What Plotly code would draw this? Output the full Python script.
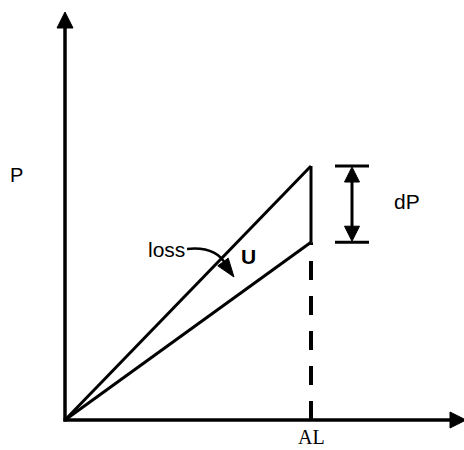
import math
import plotly.graph_objects as go

# Extension (normalised so that the final extension is 1) and loads
delta_l = [0.0, 1.0]
p_loading = [0.0, 1.0]      # loading path
p_unloading = [0.0, 0.70]   # unloading path
end_label = "AL"

W, H = 464, 450
# pixel geometry of the drawing: origin position and size of one unit
X0_PX, Y0_PX = 65, 420
SX, SY = 246, 254
x_range = [-X0_PX / SX, (W - X0_PX) / SX]
y_range = [-(H - Y0_PX) / SY, Y0_PX / SY]

BLACK = "#000000"
LW = 3


def d(px, py):
    """pixel position (from top-left) -> data coordinates"""
    return (px - X0_PX) / SX, (Y0_PX - py) / SY


def p(px, py):
    """data coordinates -> pixel position"""
    return X0_PX + px * SX, Y0_PX - py * SY


fig = go.Figure()

# loading / unloading lines
fig.add_trace(go.Scatter(x=delta_l, y=p_loading, mode="lines",
                         line=dict(color=BLACK, width=LW), hoverinfo="skip"))
fig.add_trace(go.Scatter(x=delta_l, y=p_unloading, mode="lines",
                         line=dict(color=BLACK, width=LW), hoverinfo="skip"))
# vertical closing segment between the two paths
fig.add_trace(go.Scatter(x=[delta_l[-1], delta_l[-1]], y=[p_unloading[-1], p_loading[-1]],
                         mode="lines", line=dict(color=BLACK, width=LW), hoverinfo="skip"))
# dashed drop line from the unloading end to the extension axis
fig.add_trace(go.Scatter(x=[delta_l[-1], delta_l[-1]], y=[0, p_unloading[-1]],
                         mode="lines", line=dict(color=BLACK, width=4, dash="19px,16px"),
                         hoverinfo="skip"))


def seg(a, b, width=LW):
    (x0, y0), (x1, y1) = d(*a), d(*b)
    fig.add_shape(type="line", x0=x0, y0=y0, x1=x1, y1=y1,
                  line=dict(color=BLACK, width=width))


def head(tip, base, half_w):
    """filled triangular arrow head, tip and base centre given in pixels"""
    tx, ty = tip
    bx, by = base
    L = math.hypot(tx - bx, ty - by)
    nx, ny = -(ty - by) / L, (tx - bx) / L
    pts = [tip, (bx + nx * half_w, by + ny * half_w), (bx - nx * half_w, by - ny * half_w)]
    path = "M " + " L ".join("%.5f,%.5f" % d(*q) for q in pts) + " Z"
    fig.add_shape(type="path", path=path, fillcolor=BLACK,
                  line=dict(color=BLACK, width=1))


# axes with arrow tips
ox, oy = p(0, 0)
seg((ox, oy + 1.5), (ox, 25), width=3.5)
head((ox, 12), (ox, 28), 8)
seg((ox - 1.5, oy), (452, oy), width=3.5)
head((466, oy), (450, oy), 8)

# dP dimension arrow between the two end loads
top_px = p(delta_l[-1], p_loading[-1])[1]
bot_px = p(delta_l[-1], p_unloading[-1])[1]
dpx = 352
seg((dpx, top_px + 12), (dpx, bot_px - 12), width=3)
head((dpx, top_px + 1), (dpx, top_px + 16), 7.5)
head((dpx, bot_px - 1), (dpx, bot_px - 16), 7.5)
for yv in (top_px, bot_px):
    seg((dpx - 17, yv), (dpx + 17, yv), width=3)

# curved "loss" pointer
s, c, e = d(187, 249), d(216, 246), d(226, 265)
fig.add_shape(type="path",
              path="M %.5f,%.5f Q %.5f,%.5f %.5f,%.5f" % (*s, *c, *e),
              line=dict(color=BLACK, width=2.5))
head((234, 277), (223, 262), 6.5)

txt = dict(family="Liberation Sans, Arial, sans-serif", color=BLACK)
ann = [
    dict(x=d(16, 0)[0], y=d(0, 175)[1], text="P", font=dict(size=20, **txt)),
    dict(x=d(407, 0)[0], y=d(0, 201)[1], text="dP", font=dict(size=21, **txt)),
    dict(x=d(166, 0)[0], y=d(0, 249)[1], text="loss", font=dict(size=21, **txt)),
    dict(x=d(248, 0)[0], y=d(0, 256)[1], text="<b>U</b>", font=dict(size=21, **txt)),
    dict(x=delta_l[-1], y=d(0, 450)[1], text=end_label, yanchor="bottom",
         font=dict(size=20, family="Liberation Serif, Times New Roman, serif", color=BLACK)),
]
for a in ann:
    a.update(xref="x", yref="y", showarrow=False)

fig.update_layout(
    width=W, height=H, autosize=False,
    margin=dict(l=0, r=0, t=0, b=0, pad=0),
    paper_bgcolor="white", plot_bgcolor="white",
    showlegend=False,
    xaxis=dict(range=x_range, visible=False, fixedrange=True),
    yaxis=dict(range=y_range, visible=False, fixedrange=True),
    annotations=ann,
)

fig.write_html("out.html", config={"displayModeBar": False})
